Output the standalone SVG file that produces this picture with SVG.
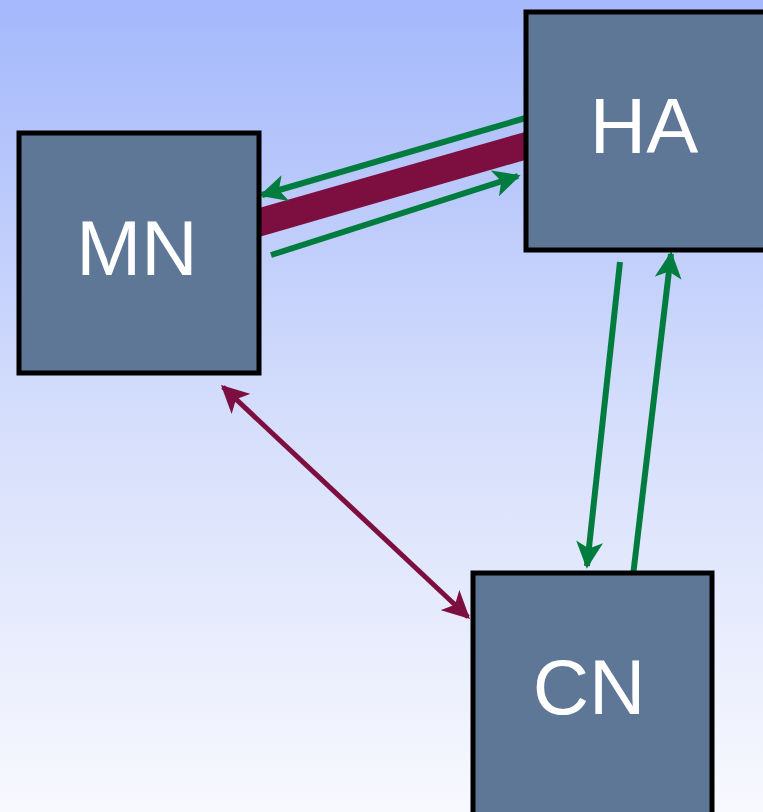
<svg xmlns="http://www.w3.org/2000/svg" width="763" height="812" viewBox="0 0 763 812">
<defs>
<linearGradient id="bg" x1="0" y1="0" x2="0" y2="1">
<stop offset="0" stop-color="#a4b8fb"/>
<stop offset="0.5" stop-color="#d4ddfb"/>
<stop offset="1" stop-color="#f8f9fe"/>
</linearGradient>
<marker id="ga" viewBox="0 0 10 10" refX="9" refY="5" markerWidth="4.5" markerHeight="4.5" orient="auto-start-reverse" markerUnits="strokeWidth">
<path d="M0,0 L10,5 L0,10 L2.5,5 Z" fill="#007d3e"/>
</marker>
<marker id="pa" viewBox="0 0 10 10" refX="9" refY="5" markerWidth="5.5" markerHeight="5.5" orient="auto-start-reverse" markerUnits="strokeWidth">
<path d="M0,0 L10,5 L0,10 L2.5,5 Z" fill="#7d0f40"/>
</marker>
<style>
.box{fill:#5f7796;stroke:#000;stroke-width:5}
.lbl{font-family:"Liberation Sans",Arial,sans-serif;font-size:78px;fill:#fff;text-anchor:middle}
.g{stroke:#007d3e;stroke-width:6;fill:none}
.p{stroke:#7d0f40;fill:none}
</style>
</defs>
<rect width="763" height="812" fill="url(#bg)"/>
<g id="connectors">
<polygon points="259,208 259,237 525,160 525,132" fill="#7d0f40"/>
<line class="g" x1="529" y1="117" x2="262" y2="195" marker-end="url(#ga)"/>
<line class="g" x1="271" y1="255" x2="518" y2="176" marker-end="url(#ga)"/>
<line class="g" x1="620" y1="262" x2="587" y2="566" marker-end="url(#ga)"/>
<line class="g" x1="633" y1="576" x2="671" y2="254" marker-end="url(#ga)"/>
<line class="p" x1="223" y1="387" x2="468" y2="617" stroke-width="5" marker-start="url(#pa)" marker-end="url(#pa)"/>
</g>
<g id="MN">
<rect class="box" x="19" y="133" width="240" height="240"/>
<text class="lbl" x="137" y="275">MN</text>
</g>
<g id="HA">
<rect class="box" x="526" y="12" width="240" height="238"/>
<text class="lbl" x="644" y="153">HA</text>
</g>
<g id="CN">
<rect class="box" x="473" y="573" width="239" height="242"/>
<text class="lbl" x="589" y="714">CN</text>
</g>
</svg>
